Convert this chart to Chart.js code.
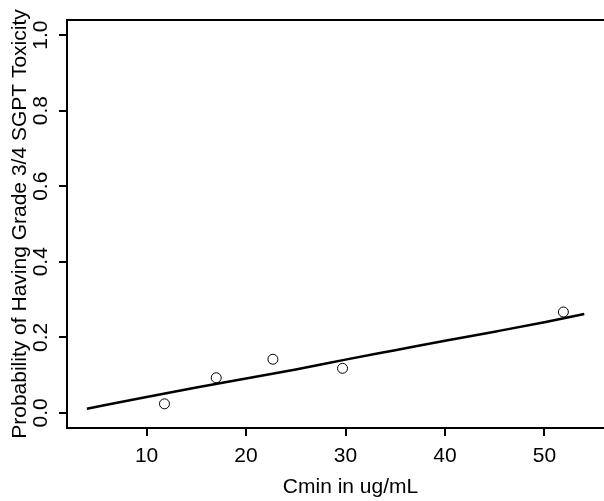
<!DOCTYPE html>
<html>
<head>
<meta charset="utf-8">
<script src="https://cdn.jsdelivr.net/npm/chart.js@4/dist/chart.umd.min.js"></script>
<style>
  html, body { margin: 0; padding: 0; background: #fff; overflow: hidden; }
  #wrap { width: 604px; height: 501px; overflow: hidden; }
</style>
</head>
<body>
<div id="wrap"><canvas id="chart" width="640" height="501"></canvas></div>
<script>
// observed proportions
const cminObs = [11.8, 17.0, 22.7, 29.7, 51.9];
const probObs = [0.024, 0.093, 0.142, 0.118, 0.267];

// fitted curve
const cminFit = [4, 10, 15, 20, 25, 30, 35, 40, 45, 50, 54];
const probFit = [0.011, 0.042, 0.067, 0.091, 0.115, 0.141, 0.166, 0.191, 0.215, 0.240, 0.262];

const xTicks = [10, 20, 30, 40, 50];
const yTicks = [0, 0.2, 0.4, 0.6, 0.8, 1.0];

const font = { family: "'Liberation Sans', Arial, Helvetica, sans-serif", size: 21 };

// top edge of the plot box; left and bottom come from the axis borders,
// the right side of the box is off the page in the original
const boxPlugin = {
    id: 'box',
    afterDraw(chart) {
        const a = chart.chartArea;
        const ctx = chart.ctx;
        ctx.save();
        ctx.strokeStyle = '#000';
        ctx.lineWidth = 2;
        ctx.beginPath();
        ctx.moveTo(a.left - 1, a.top);
        ctx.lineTo(chart.width, a.top);
        ctx.stroke();
        ctx.restore();
    }
};

new Chart(document.getElementById("chart"), {
    type: 'scatter',
    data: {
        datasets: [{
            label: "fit",
            data: cminFit.map((x, i) => ({ x: x, y: probFit[i] })),
            showLine: true,
            borderColor: "#000",
            borderWidth: 2.5,
            pointRadius: 0,
            cubicInterpolationMode: 'monotone',
            fill: false
        }, {
            label: "observed",
            data: cminObs.map((x, i) => ({ x: x, y: probObs[i] })),
            showLine: false,
            pointStyle: 'circle',
            pointRadius: 5,
            borderWidth: 1,
            borderColor: "#000",
            backgroundColor: "rgba(0,0,0,0)"
        }]
    },
    options: {
        responsive: false,
        animation: false,
        layout: { padding: { top: 20, right: 3, bottom: 0, left: 0 } },
        plugins: {
            legend: { display: false },
            tooltip: { enabled: false }
        },
        scales: {
            x: {
                type: 'linear',
                min: 2,
                max: 59,
                afterBuildTicks: s => { s.ticks = xTicks.map(v => ({ value: v })); },
                afterFit: s => { s.height = 73; },
                grid: { drawOnChartArea: false, drawTicks: true, tickLength: 8, color: '#000', lineWidth: 2 },
                border: { display: true, color: '#000', width: 2 },
                ticks: { color: '#000', font: font, padding: 8, maxRotation: 0, autoSkip: false },
                title: { display: true, text: 'Cmin in ug/mL', color: '#000', font: font, padding: { top: 0, bottom: 1 } }
            },
            y: {
                type: 'linear',
                min: -0.04,
                max: 1.04,
                afterBuildTicks: s => { s.ticks = yTicks.map(v => ({ value: v })); },
                afterFit: s => { s.width = 67; },
                grid: { drawOnChartArea: false, drawTicks: true, tickLength: 8, color: '#000', lineWidth: 2 },
                border: { display: true, color: '#000', width: 2 },
                ticks: {
                    color: '#000', font: font, padding: 3,
                    minRotation: 90, maxRotation: 90, crossAlign: 'center',
                    callback: v => v.toFixed(1)
                },
                title: { display: true, text: 'Probability of Having Grade 3/4 SGPT Toxicity', color: '#000', font: font, padding: { top: 8, bottom: 0 } }
            }
        }
    },
    plugins: [boxPlugin]
});
</script>
</body>
</html>
